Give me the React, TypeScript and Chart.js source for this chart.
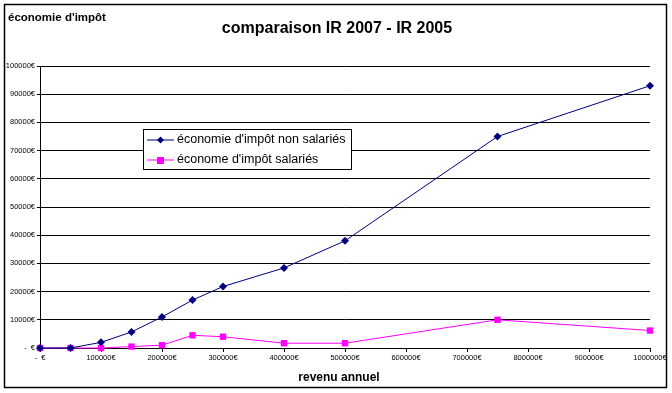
import React, { useEffect, useRef } from "react";
import { Chart, registerables } from "chart.js";

Chart.register(...registerables);

const title = "comparaison IR 2007 - IR 2005";
const yTitle = "économie d'impôt";
const xTitle = "revenu annuel";
const seriesNames = ["économie d'impôt non salariés", "économe d'impôt salariés"];
const revenus = [0, 50000, 100000, 150000, 200000, 250000, 300000, 400000, 500000, 750000, 1000000];
const nonSalaries = [0, 0, 2000, 5700, 11000, 17000, 21800, 28400, 38000, 75000, 93000];
const salaries = [0, 0, 0, 500, 1000, 4500, 4000, 1700, 1700, 10000, 6200];

const FONT = "'Liberation Sans', Arial, sans-serif";

const fmt = (v: number) => (v === 0 ? "-  €" : `${v}€`);

const decorPlugin = {
  id: "decor",
  beforeDraw(chart: any) {
    const ctx = chart.ctx;
    ctx.save();
    ctx.fillStyle = "#fff";
    ctx.fillRect(0, 0, chart.width, chart.height);
    ctx.restore();
  },
  afterDraw(chart: any) {
    const ctx = chart.ctx;
    ctx.save();
    // outer frame
    ctx.strokeStyle = "#000";
    ctx.lineWidth = 1.5;
    ctx.strokeRect(4.5, 4.5, 662, 383);
    ctx.fillStyle = "#000";
    ctx.textBaseline = "middle";
    // title
    ctx.font = `bold 16px ${FONT}`;
    ctx.textAlign = "center";
    ctx.fillText(title, 337, 29);
    // y title
    ctx.font = `bold 11.5px ${FONT}`;
    ctx.textAlign = "left";
    ctx.fillText(yTitle, 8, 18);
    // x title
    ctx.font = `bold 12px ${FONT}`;
    ctx.textAlign = "center";
    ctx.fillText(xTitle, 339, 378);

    // legend
    const bx = 143.5, by = 129.5, bw = 208, bh = 40;
    ctx.fillStyle = "#fff";
    ctx.fillRect(bx, by, bw, bh);
    ctx.strokeStyle = "#000";
    ctx.lineWidth = 1;
    ctx.strokeRect(bx, by, bw, bh);
    chart.data.datasets.forEach((ds: any, i: number) => {
      const y = 140 + i * 20;
      ctx.strokeStyle = ds.borderColor;
      ctx.lineWidth = 1;
      ctx.beginPath();
      ctx.moveTo(147, y);
      ctx.lineTo(174, y);
      ctx.stroke();
      ctx.fillStyle = ds.borderColor;
      if (ds.pointStyle === "rectRot") {
        ctx.beginPath();
        ctx.moveTo(160.5, y - 3.5);
        ctx.lineTo(164, y);
        ctx.lineTo(160.5, y + 3.5);
        ctx.lineTo(157, y);
        ctx.closePath();
        ctx.fill();
      } else {
        ctx.fillRect(157, y - 3, 7, 7);
      }
      ctx.fillStyle = "#000";
      ctx.font = `12.5px ${FONT}`;
      ctx.textAlign = "left";
      ctx.textBaseline = "middle";
      ctx.fillText(ds.label, 177, y);
    });
    ctx.restore();
  },
};

export default function App() {
  const ref = useRef<HTMLCanvasElement>(null);
  useEffect(() => {
    if (!ref.current) return;
    const chart = new Chart(ref.current, {
      type: "line",
      data: {
        datasets: [
          {
            label: seriesNames[0],
            data: revenus.map((x, i) => ({ x, y: nonSalaries[i] })),
            borderColor: "#000080",
            backgroundColor: "#000080",
            borderWidth: 1,
            pointStyle: "rectRot",
            pointRadius: 4,
            pointBorderWidth: 0,
            tension: 0,
            clip: false,
          },
          {
            label: seriesNames[1],
            data: revenus.map((x, i) => ({ x, y: salaries[i] })),
            borderColor: "#ff00ff",
            backgroundColor: "#ff00ff",
            borderWidth: 1,
            pointStyle: "rect",
            pointRadius: 4.5,
            pointBorderWidth: 0,
            tension: 0,
            clip: false,
          },
        ],
      },
      options: {
        responsive: false,
        animation: false,
        devicePixelRatio: 1,
        layout: { padding: { left: 0, right: 22, top: 66, bottom: 0 } },
        plugins: { legend: { display: false }, title: { display: false }, tooltip: { enabled: false } },
        scales: {
          x: {
            type: "linear",
            min: 0,
            max: 1000000,
            afterFit: (s: any) => { s.height = 45; },
            ticks: {
              stepSize: 100000,
              color: "#000",
              font: { family: FONT, size: 7.5 },
              padding: 1,
              maxRotation: 0,
              autoSkip: false,
              callback: (v: any) => fmt(Number(v)),
            },
            grid: { drawOnChartArea: false, color: "#000", tickLength: 4 },
            border: { color: "#000", width: 1 },
          },
          y: {
            type: "linear",
            min: 0,
            max: 100000,
            afterFit: (s: any) => { s.width = 40; },
            ticks: {
              stepSize: 10000,
              color: "#000",
              font: { family: FONT, size: 7.5 },
              padding: 2,
              callback: (v: any) => fmt(Number(v)),
            },
            grid: { color: "#000", tickLength: 3 },
            border: { color: "#000", width: 1 },
          },
        },
      },
      plugins: [decorPlugin],
    } as any);
    return () => chart.destroy();
  }, []);
  return (
    <div style={{ position: "absolute", left: 0, top: 0, width: 672, height: 393 }}>
      <canvas ref={ref} width={672} height={393} />
    </div>
  );
}
